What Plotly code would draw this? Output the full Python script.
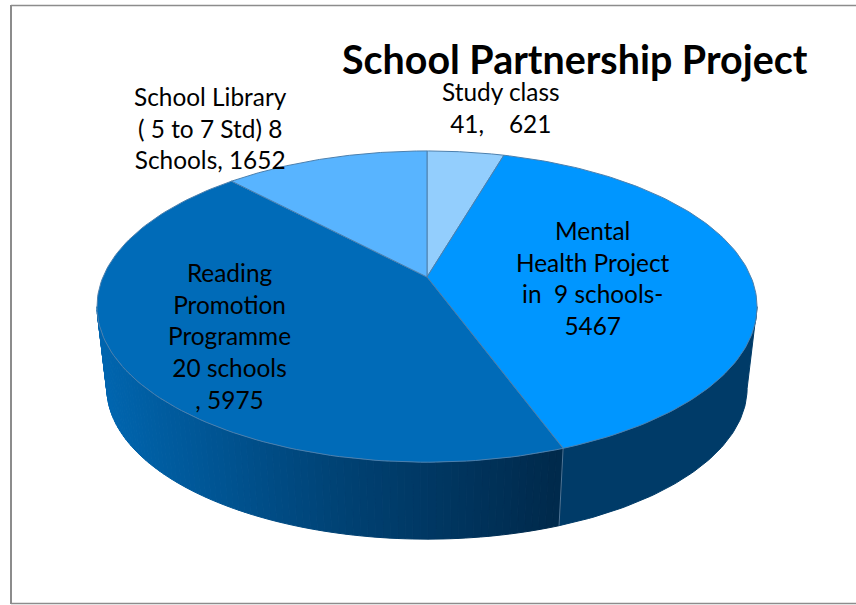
import numpy as np
import plotly.graph_objects as go

categories = ["Study class", "Mental Health Project", "Reading Promotion Programme", "School Library"]
values = [621, 5467, 5975, 1652]
slice_colors = ["#93CEFD", "#0096FF", "#006BB8", "#58B4FF"]
labels = [
    "Study class<br>41,    621",
    "Mental<br>Health Project<br>in  9 schools-<br>5467",
    "Reading<br>Promotion<br>Programme<br>20 schools<br>, 5975",
    "School Library<br>( 5 to 7 Std) 8<br>Schools, 1652",
]
title_text = "<b>School Partnership Project</b>"

FONT = "Lato"
CX, CY, A, B, P = 427.0, 277.0, 324.0, 150.0, 0.19
SHRINK, DROP = 0.97, 82.5


def project(theta, bottom=False):
    """Perspective projection of a pie-rim angle (radians, clockwise from top)."""
    u, v = np.sin(theta), -np.cos(theta)
    w = 1 - P * v
    s = SHRINK if bottom else 1.0
    d = DROP if bottom else 0.0
    return CX + s * A * u / w, CY + d + s * B * v / w


def lerp_color(x):
    stops_x = [97, 340, 558]
    g = np.interp(x, stops_x, [102, 66, 42])
    b = np.interp(x, stops_x, [176, 116, 76])
    return f"rgb(0,{int(g)},{int(b)})"


fractions = np.array(values) / sum(values)
edges = np.concatenate([[0], np.cumsum(fractions)]) * 2 * np.pi

fig = go.Figure()


def poly(xs, ys, fill, line=None, width=1.0):
    fig.add_trace(go.Scatter(
        x=xs, y=ys, mode="lines", fill="toself", fillcolor=fill,
        line=dict(color=line or fill, width=width), hoverinfo="skip", showlegend=False))


# side wall: visible from the right tangent round the front to the left tangent
WALL_START, WALL_END = np.radians(101), np.radians(259)
for i, col in enumerate(slice_colors):
    lo, hi = max(edges[i], WALL_START), min(edges[i + 1], WALL_END)
    if hi <= lo:
        continue
    if i == 1:  # flat shaded face
        t = np.linspace(lo, hi, 60)
        xt, yt = project(t)
        xb, yb = project(t, True)
        poly(np.r_[xt, xb[::-1], xt[0]], np.r_[yt, yb[::-1], yt[0]], "#003B68")
    else:  # shaded by screen position
        ts = np.linspace(lo, hi, 90)
        for a, b in zip(ts[:-1], ts[1:]):
            t = np.array([a, b])
            xt, yt = project(t)
            xb, yb = project(t, True)
            poly(np.r_[xt, xb[::-1], xt[0]], np.r_[yt, yb[::-1], yt[0]],
                 lerp_color(xt.mean()))

# vertical seam on the wall between slices
for e in edges[1:-1]:
    if WALL_START < e < WALL_END:
        xt, yt = project(np.array([e]))
        xb, yb = project(np.array([e]), True)
        fig.add_trace(go.Scatter(x=[xt[0], xb[0]], y=[yt[0], yb[0]], mode="lines",
                                 line=dict(color="#4F7596", width=1),
                                 hoverinfo="skip", showlegend=False))

# top face
for i, col in enumerate(slice_colors):
    t = np.linspace(edges[i], edges[i + 1], 120)
    xs, ys = project(t)
    poly(np.r_[CX, xs, CX], np.r_[CY, ys, CY], col, line="#4C80AE", width=1)

annots = [
    dict(text=title_text, x=575, y=58, size=39.4),
    dict(text=labels[0], x=501, y=107.5, size=24.4),
    dict(text=labels[1], x=592.5, y=278, size=24.4),
    dict(text=labels[2], x=229, y=336, size=24.4),
    dict(text=labels[3], x=210, y=128, size=24.4),
]
annotations = [
    dict(text=a["text"], x=a["x"], y=a["y"], xref="x", yref="y", showarrow=False,
         xanchor="center", yanchor="middle", align="center",
         font=dict(family=FONT, size=a["size"], color="#000000"))
    for a in annots
]

FRAME = "#8C8C8C"
shapes = [
    dict(type="line", x0=11, x1=11, y0=5, y1=604, line=dict(color=FRAME, width=2), layer="above"),
    dict(type="line", x0=11, x1=856, y0=5.5, y1=5.5, line=dict(color=FRAME, width=1.5), layer="above"),
    dict(type="line", x0=11, x1=856, y0=603.5, y1=603.5, line=dict(color=FRAME, width=1.5), layer="above"),
]

fig.update_layout(
    width=856, height=605, margin=dict(l=0, r=0, t=0, b=0),
    paper_bgcolor="white", plot_bgcolor="white", showlegend=False,
    xaxis=dict(range=[0, 856], visible=False, fixedrange=True),
    yaxis=dict(range=[605, 0], visible=False, fixedrange=True),
    annotations=annotations, shapes=shapes,
)
fig.write_html("out.html", config=dict(displayModeBar=False),
               post_script="document.body.style.margin='0';document.body.style.overflow='hidden';")
